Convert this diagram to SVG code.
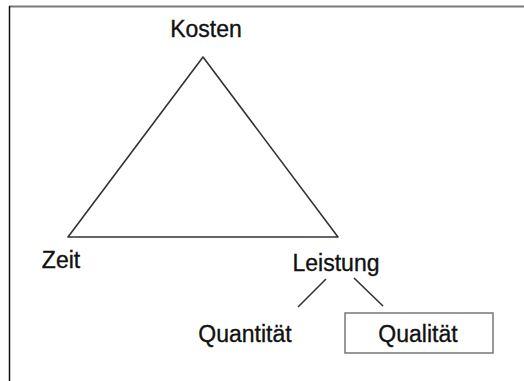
<svg xmlns="http://www.w3.org/2000/svg" width="524" height="381" viewBox="0 0 524 381">
<style>
.t{font-family:"Liberation Sans",Arial,sans-serif;font-size:23px;fill:#111;stroke:#111;stroke-width:0.35}
.ln{stroke:#333;stroke-width:1.6;fill:none}
</style>
<rect width="524" height="381" fill="#fff"/>
<g id="frame">
<line x1="9" y1="6.5" x2="524" y2="6.5" stroke="#7a7a7a" stroke-width="2"/>
<line x1="9.5" y1="6" x2="9.5" y2="381" stroke="#111" stroke-width="1.5"/>
</g>
<g id="connectors">
<polygon class="ln" points="203,57 68,237 338,237" stroke-linejoin="round"/>
<line class="ln" x1="326" y1="279" x2="298" y2="307"/>
<line class="ln" x1="354" y1="278" x2="383" y2="306"/>
</g>
<g id="kosten"><text class="t" x="206" y="37" text-anchor="middle">Kosten</text></g>
<g id="zeit"><text class="t" x="61" y="268" text-anchor="middle">Zeit</text></g>
<g id="leistung"><text class="t" x="336" y="271" text-anchor="middle">Leistung</text></g>
<g id="quantitaet"><text class="t" x="245" y="342" text-anchor="middle">Quantität</text></g>
<g id="qualitaet">
<rect x="345" y="313" width="148" height="40" fill="none" stroke="#777" stroke-width="1.5"/>
<text class="t" x="418" y="342" text-anchor="middle">Qualität</text>
</g>
</svg>
